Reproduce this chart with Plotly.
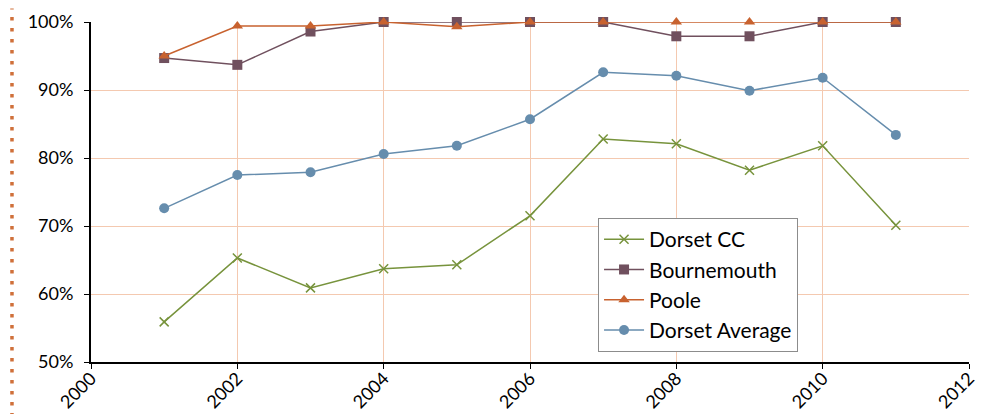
import plotly.graph_objects as go

years = [2001, 2002, 2003, 2004, 2005, 2006, 2007, 2008, 2009, 2010, 2011]
dorset_cc = [55.9, 65.3, 60.9, 63.7, 64.3, 71.5, 82.8, 82.1, 78.2, 81.8, 70.1]
bournemouth = [94.7, 93.7, 98.6, 100, 100, 100, 100, 97.9, 97.9, 100, 100]
poole = [95.0, 99.4, 99.4, 100, 99.3, 100, 100, 100, 100, 100, 100]
dorset_avg = [72.6, 77.5, 77.9, 80.6, 81.8, 85.7, 92.6, 92.1, 89.9, 91.8, 83.4]

x_ticks = [2000, 2002, 2004, 2006, 2008, 2010, 2012]
y_ticks = [50, 60, 70, 80, 90, 100]
y_tick_labels = ["50%", "60%", "70%", "80%", "90%", "100%"]

fig = go.Figure()
fig.add_trace(go.Scatter(x=years, y=dorset_cc, name="Dorset CC", mode="lines+markers",
                         cliponaxis=False,
                         line=dict(color="#77933C", width=1.5),
                         marker=dict(symbol="x-thin", size=9, color="#77933C",
                                     line=dict(color="#77933C", width=1.5))))
fig.add_trace(go.Scatter(x=years, y=bournemouth, name="Bournemouth", mode="lines+markers",
                         cliponaxis=False,
                         line=dict(color="#70505E", width=1.5),
                         marker=dict(symbol="square", size=10, color="#70505E")))
fig.add_trace(go.Scatter(x=years, y=poole, name="Poole", mode="lines+markers",
                         cliponaxis=False,
                         line=dict(color="#C8622F", width=1.5),
                         marker=dict(symbol="triangle-up", size=10, color="#C8622F")))
fig.add_trace(go.Scatter(x=years, y=dorset_avg, name="Dorset Average", mode="lines+markers",
                         cliponaxis=False,
                         line=dict(color="#668DAD", width=1.5),
                         marker=dict(symbol="circle", size=10, color="#668DAD")))

fig.add_shape(type="line", xref="paper", yref="paper", x0=-0.09, x1=-0.09, y0=-0.16, y1=1.04,
              line=dict(color="#D0703A", width=3.5, dash="3.5px,7.5px"))

font_family = "Lato, 'Open Sans', sans-serif"
fig.update_layout(
    width=995, height=414,
    margin=dict(l=83, r=34, t=14, b=60),
    paper_bgcolor="white", plot_bgcolor="white",
    font=dict(family=font_family, size=18, color="black"),
    showlegend=True,
    legend=dict(x=0.5775, y=0.4235, xanchor="left", yanchor="top",
                bordercolor="#8C8C8C", borderwidth=1, bgcolor="white",
                font=dict(size=21), tracegroupgap=0, itemwidth=40),
    xaxis=dict(range=[2000, 2012], tickvals=x_ticks, ticktext=[str(t) for t in x_ticks],
               tickangle=-45, showgrid=True, gridcolor="#F4C9B0", gridwidth=1,
               showline=True, linecolor="black", linewidth=2, automargin=False,
               ticks="outside", ticklen=5, tickcolor="black", zeroline=False,
               ticklabelstandoff=-8,
               tickfont=dict(size=18)),
    yaxis=dict(range=[50, 100], tickvals=y_ticks, ticktext=y_tick_labels,
               showgrid=True, gridcolor="#F4C9B0", gridwidth=1,
               showline=True, linecolor="black", linewidth=2, automargin=False,
               ticks="outside", ticklen=5, tickcolor="black", zeroline=False,
               ticklabelstandoff=7,
               tickfont=dict(size=18)),
)

fig.write_html("out.html")
